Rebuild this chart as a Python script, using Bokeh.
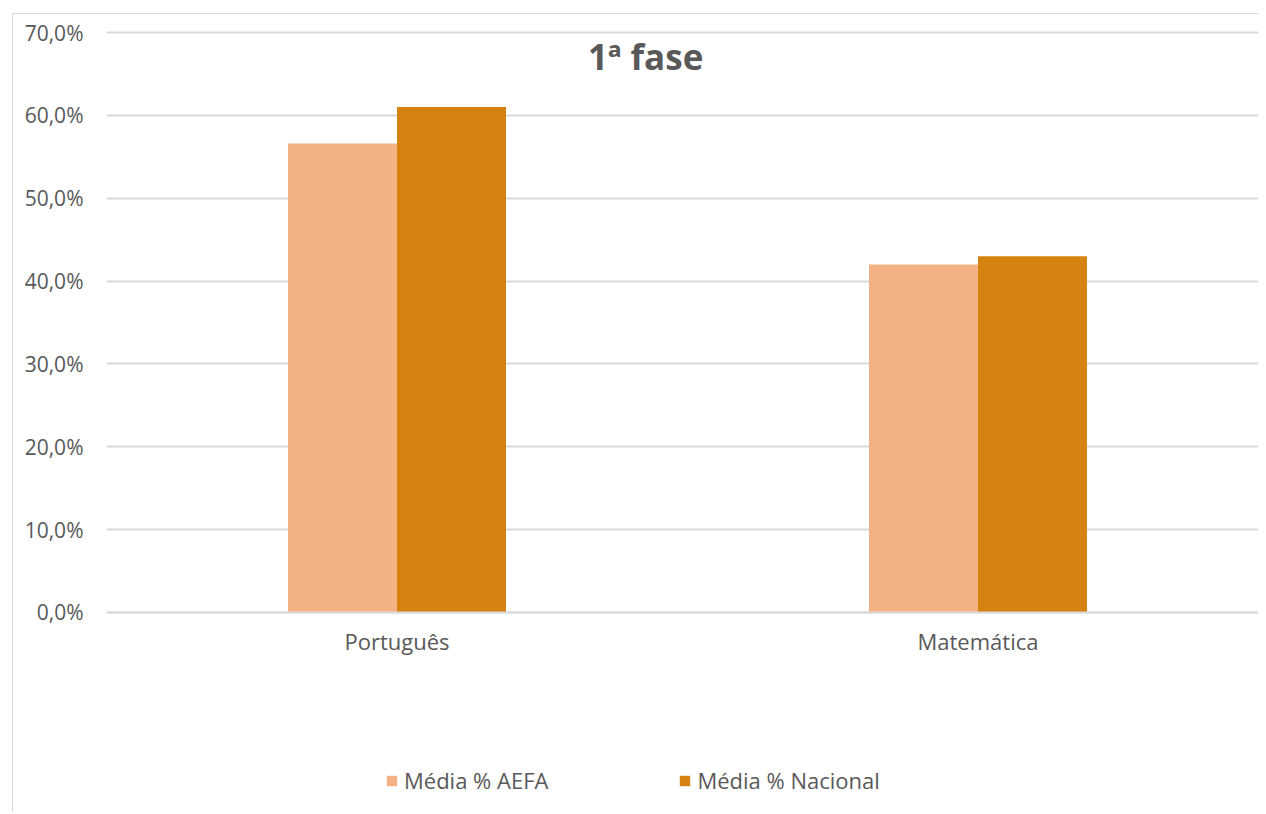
from bokeh.plotting import figure
from bokeh.models import (ColumnDataSource, FixedTicker, CustomJSTickFormatter,
                          Legend, LegendItem, Label, Range1d)
from bokeh.transform import dodge
from bokeh.embed import file_html
from bokeh.resources import INLINE

categories = ["Português", "Matemática"]
aefa = [56.6, 42.0]
nacional = [61.0, 43.0]
series_names = ["Média % AEFA", "Média % Nacional"]
y_ticks = [0, 10, 20, 30, 40, 50, 60, 70]
title_text = "1ª fase"

FONT = "Open Sans"
TXT = "#595959"
GRID = "#d9d9d9"
C_AEFA = "#F4B183"
C_NAC = "#D58211"

xpos = [i + 0.5 for i in range(len(categories))]
src = ColumnDataSource(dict(x=xpos, aefa=aefa, nac=nacional))

p = figure(width=1246, height=799, output_backend="svg", toolbar_location=None,
           x_range=Range1d(0, 1.9845), y_range=Range1d(-24.26, 71.45),
           min_border_left=93, min_border_right=0, min_border_top=6, min_border_bottom=0)
p.styles = {"margin-left": "12px", "margin-top": "13px",
            "border-left": "1px solid #d9d9d9", "border-top": "1px solid #d9d9d9"}
p.outline_line_color = None
p.background_fill_color = "white"
p.border_fill_color = "white"

w = 0.1876
r1 = p.vbar(x=dodge("x", -w / 2), top="aefa", bottom=0, width=w, source=src,
            fill_color=C_AEFA, line_color=None)
r2 = p.vbar(x=dodge("x", w / 2), top="nac", bottom=0, width=w, source=src,
            fill_color=C_NAC, line_color=None)

# y axis
p.yaxis.ticker = FixedTicker(ticks=y_ticks)
p.yaxis.formatter = CustomJSTickFormatter(code="return tick.toFixed(1).replace('.', ',') + '%';")
p.yaxis.axis_line_color = None
p.yaxis.major_tick_line_color = None
p.yaxis.minor_tick_line_color = None
p.yaxis.major_label_standoff = 17
p.yaxis.major_label_text_font = FONT
p.yaxis.major_label_text_font_size = "21px"
p.yaxis.major_label_text_color = TXT

# x axis, fixed at the zero line
p.xaxis.fixed_location = 0
p.xaxis.ticker = FixedTicker(ticks=xpos)
p.xaxis.major_label_overrides = {xv: c for xv, c in zip(xpos, categories)}
p.xaxis.axis_line_color = GRID
p.xaxis.axis_line_width = 2
p.xaxis.major_tick_line_color = None
p.xaxis.minor_tick_line_color = None
p.xaxis.major_label_standoff = 8
p.xaxis.major_label_text_font = FONT
p.xaxis.major_label_text_font_size = "22px"
p.xaxis.major_label_text_color = TXT

p.xgrid.grid_line_color = None
p.ygrid.ticker = FixedTicker(ticks=y_ticks)
p.ygrid.grid_line_color = GRID
p.ygrid.grid_line_width = 2

title = Label(x=0.928, y=67.1, text=title_text, text_align="center", text_baseline="middle",
              text_font=FONT, text_font_size="35px", text_font_style="bold", text_color=TXT)
p.add_layout(title)

legend = Legend(items=[LegendItem(label=series_names[0], renderers=[r1]),
                       LegendItem(label=series_names[1], renderers=[r2])],
                orientation="horizontal", location=(279, 18),
                padding=0, margin=0, spacing=130,
                glyph_width=13, glyph_height=13, label_standoff=6,
                label_text_font=FONT, label_text_font_size="22px", label_text_color=TXT,
                border_line_alpha=0, background_fill_alpha=0)
p.add_layout(legend, "center")

open("out.html", "w").write(file_html(p, INLINE))
